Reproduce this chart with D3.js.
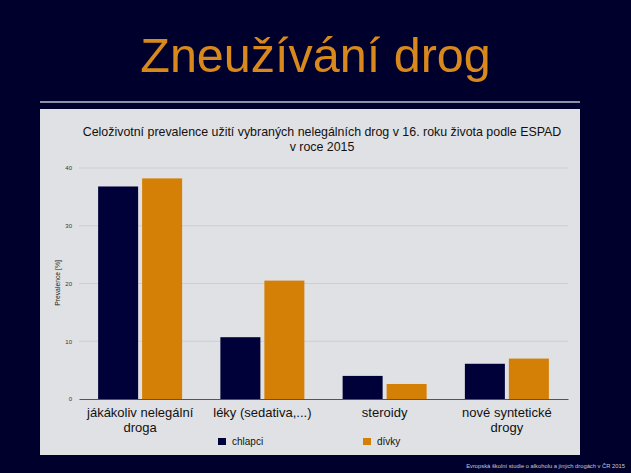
<!DOCTYPE html>
<html><head><meta charset="utf-8">
<script src="https://cdn.jsdelivr.net/npm/d3@7"></script>
<style>
html,body{margin:0;padding:0;background:#00002c;}
svg{display:block;}
</style></head>
<body>
<script>
const slideTitle = "Zneužívání drog";
const chartTitle = ["Celoživotní prevalence užití vybraných nelegálních drog v 16. roku života podle ESPAD", "v roce 2015"];
const categories = ["jákákoliv nelegální droga", "léky (sedativa,...)", "steroidy", "nové syntetické drogy"];
const seriesNames = ["chlapci", "dívky"];
const chlapci = [36.8, 10.7, 4.0, 6.1];
const divky = [38.2, 20.5, 2.6, 7.0];
const yTicks = [0, 10, 20, 30, 40];
const yLabel = "Prevalence [%]";
const footer = "Evropská školní studie o alkoholu a jiných drogách v ČR 2015";
const colors = ["#01013a", "#d47f06"];

const W = 631, H = 473;
const svg = d3.select("body").append("svg").attr("width", W).attr("height", H);
svg.append("rect").attr("width", W).attr("height", H).attr("fill", "#00002c");

svg.append("text").attr("x", 315.5).attr("y", 72).attr("text-anchor", "middle")
  .attr("font-family", "Liberation Sans, Arial, sans-serif").attr("font-size", 48.5)
  .attr("fill", "#d9881c").text(slideTitle);

svg.append("rect").attr("x", 40).attr("y", 101).attr("width", 540).attr("height", 2).attr("fill", "#8d91a8");

svg.append("rect").attr("x", 40).attr("y", 109).attr("width", 540).attr("height", 346).attr("fill", "#e0e1e4");

const tg = svg.append("text").attr("text-anchor", "middle")
  .attr("font-family", "Liberation Sans, Arial, sans-serif").attr("font-size", 12.4).attr("fill", "#111");
chartTitle.forEach((t, i) => tg.append("tspan").attr("x", 322).attr("y", 136 + i * 15).text(t));

const data = categories.map((c, i) => ({cat: c, values: [chlapci[i], divky[i]]}));

const x0 = d3.scaleBand().domain(categories).range([79, 568]).padding(0);
const bw = x0.bandwidth();
const x1 = d3.scaleBand().domain(seriesNames).range([(bw - 84) / 2, (bw + 84) / 2]).paddingInner(4 / 44).paddingOuter(0);
const y = d3.scaleLinear().domain([0, 40]).range([399, 168]);

// gridlines
svg.append("g").selectAll("line").data(yTicks.filter(d => d > 0)).join("line")
  .attr("x1", 79).attr("x2", 568).attr("y1", d => y(d)).attr("y2", d => y(d))
  .attr("stroke", "#cdced2").attr("stroke-width", 1);

// y axis
const yAxis = svg.append("g").attr("transform", "translate(72,0)")
  .call(d3.axisLeft(y).tickValues(yTicks).tickSize(0).tickPadding(0));
yAxis.select(".domain").remove();
yAxis.selectAll("text").attr("font-family", "Liberation Sans, Arial, sans-serif").attr("font-size", 6).attr("fill", "#333");

svg.append("text").attr("transform", "translate(60,283) rotate(-90)").attr("text-anchor", "middle")
  .attr("font-family", "Liberation Sans, Arial, sans-serif").attr("font-size", 6.8).attr("fill", "#222").text(yLabel);

// bars
const groups = svg.append("g").selectAll("g").data(data).join("g")
  .attr("transform", d => `translate(${x0(d.cat)},0)`);
groups.selectAll("rect").data(d => d.values.map((v, i) => ({s: seriesNames[i], v, i}))).join("rect")
  .attr("x", d => x1(d.s)).attr("width", x1.bandwidth())
  .attr("y", d => y(d.v)).attr("height", d => y(0) - y(d.v))
  .attr("fill", d => colors[d.i]);

// x axis
const xAxis = svg.append("g").attr("transform", `translate(0,${y(0)})`)
  .call(d3.axisBottom(x0).tickSize(0).tickPadding(0));
xAxis.select(".domain").attr("stroke", "#555").attr("stroke-width", 1.2);
xAxis.selectAll("text").attr("font-family", "Liberation Sans, Arial, sans-serif").attr("font-size", 13).attr("fill", "#111")
  .attr("dy", null).attr("y", 0)
  .each(function(d) {
    const el = d3.select(this);
    const words = d.split(" ");
    el.text(null);
    let lines = [], cur = [];
    const tmp = el.append("tspan");
    words.forEach(w => {
      const test = cur.concat([w]).join(" ");
      tmp.text(test);
      if (tmp.node().getComputedTextLength() > 112 && cur.length) { lines.push(cur.join(" ")); cur = [w]; }
      else cur.push(w);
    });
    lines.push(cur.join(" "));
    tmp.remove();
    lines.forEach((l, i) => el.append("tspan").attr("x", 0).attr("y", 18 + i * 14.5).text(l));
  });

// legend
const legX = [218, 363];
const leg = svg.append("g").selectAll("g").data(seriesNames).join("g")
  .attr("transform", (d, i) => `translate(${legX[i]},438)`);
leg.append("rect").attr("width", 8).attr("height", 7).attr("fill", (d, i) => colors[i]);
leg.append("text").attr("x", 14).attr("y", 7).attr("font-family", "Liberation Sans, Arial, sans-serif")
  .attr("font-size", 10).attr("fill", "#111").text(d => d);

svg.append("text").attr("x", 625).attr("y", 468).attr("text-anchor", "end")
  .attr("font-family", "Liberation Sans, Arial, sans-serif").attr("font-size", 5.8).attr("fill", "#c8c8d4").text(footer);
</script>
</body></html>
